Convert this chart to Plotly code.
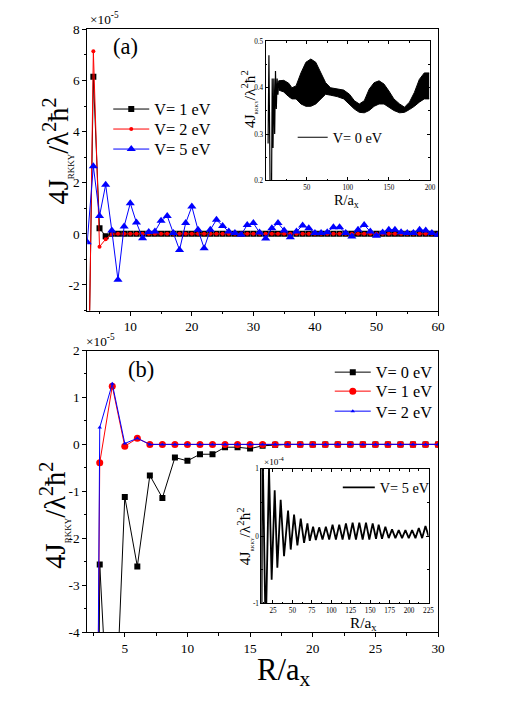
import plotly.graph_objects as go

W, H = 512, 727
FONT = "Liberation Serif"

# ---- panel (a): R/a_x = 3..60, J in units of 1e-5 ----
r_a = list(range(3, 61))
j_a_v1 = [-9.0, 6.15, 0.22, -0.09, 0.0, 0.0, 0.0, 0.0, 0.0, 0.0,
          0.0, 0.0, 0.0, 0.0, 0.0, 0.0, 0.0, 0.0, 0.0, 0.0,
          0.0, 0.0, 0.0, 0.0, 0.0, 0.0, 0.0, 0.0, 0.0, 0.0,
          0.0, 0.0, 0.0, 0.0, 0.0, 0.0, 0.0, 0.0, 0.0, 0.0,
          0.0, 0.0, 0.0, 0.0, 0.0, 0.0, 0.0, 0.0, 0.0, 0.0,
          0.0, 0.0, 0.0, 0.0, 0.0, 0.0, 0.0, 0.0]
j_a_v2 = [-10.0, 7.15, -0.50, -0.21, -0.01, 0.0, 0.0, 0.0, 0.0, 0.0,
          0.0, 0.0, 0.0, 0.0, 0.0, 0.0, 0.0, 0.0, 0.0, 0.0,
          0.0, 0.0, 0.0, 0.0, 0.0, 0.0, 0.0, 0.0, 0.0, 0.0,
          0.0, 0.0, 0.0, 0.0, 0.0, 0.0, 0.0, 0.0, 0.0, 0.0,
          0.0, 0.0, 0.0, 0.0, 0.0, 0.0, 0.0, 0.0, 0.0, 0.0,
          0.0, 0.0, 0.0, 0.0, 0.0, 0.0, 0.0, 0.0]
j_a_v5 = [-0.33, 2.65, 0.70, 1.92, 0.13, -1.80, 0.29, 1.20, 0.44, -0.17,
          0.07, 0.09, 0.51, 0.70, 0.03, -0.63, 0.42, 1.07, 0.16, -0.56,
          0.16, 0.55, 0.31, 0.09, 0.03, -0.04, 0.35, 0.42, 0.05, -0.18,
          0.22, 0.42, 0.13, -0.13, 0.09, 0.33, 0.22, 0.03, 0.03, 0.06,
          0.26, 0.26, 0.03, -0.10, 0.16, 0.35, 0.09, -0.07, 0.05, 0.16,
          0.16, 0.06, 0.03, 0.03, 0.16, 0.13, 0.03, -0.04]

# inset of (a): V = 0 eV, first spikes then a fast-oscillating band
ins_a_r_spike = [3, 4, 5, 6, 7, 8, 9, 10, 11, 12, 13, 14, 15, 16]
ins_a_j_spike = [0.28, 0.47, 0.28, 0.05, 0.12, 0.42, 0.27, 0.42, 0.30,
                 0.436, 0.354, 0.42, 0.385, 0.415]
ins_a_r_env = [16, 22, 28, 32, 37, 43, 49, 55, 61, 67, 73, 79, 87, 95, 102,
               108, 114, 120, 126, 132, 138, 144, 150, 156, 163, 169, 175,
               181, 187, 193, 199]
ins_a_upper = [0.415, 0.416, 0.410, 0.400, 0.404, 0.432, 0.455, 0.462, 0.455,
               0.432, 0.411, 0.400, 0.397, 0.395, 0.386, 0.372, 0.365, 0.372,
               0.397, 0.411, 0.415, 0.408, 0.393, 0.376, 0.365, 0.358, 0.369,
               0.390, 0.418, 0.432, 0.432]
ins_a_lower = [0.395, 0.391, 0.381, 0.376, 0.376, 0.365, 0.360, 0.360, 0.365,
               0.376, 0.386, 0.384, 0.381, 0.376, 0.365, 0.354, 0.347, 0.346,
               0.351, 0.360, 0.365, 0.365, 0.358, 0.351, 0.346, 0.347, 0.353,
               0.360, 0.369, 0.376, 0.376]

# ---- panel (b): R/a_x = 2..30, J in units of 1e-5 ----
r_b = list(range(2, 31))
j_b_v0 = [-45.0, -2.56, -7.6, -1.12, -2.60, -0.66, -1.14, -0.28, -0.35, -0.21,
          -0.21, -0.06, -0.06, -0.09, -0.03, -0.01, 0.0, 0.0, 0.0, 0.0,
          0.0, 0.0, 0.0, 0.0, 0.0, 0.0, 0.0, 0.0, 0.0]
j_b_v1 = [-35.0, -0.39, 1.24, -0.04, 0.13, 0.0, 0.0, 0.0, 0.0, 0.0,
          0.0, 0.0, 0.0, 0.0, 0.0, 0.0, 0.0, 0.0, 0.0, 0.0,
          0.0, 0.0, 0.0, 0.0, 0.0, 0.0, 0.0, 0.0, 0.0]
j_b_v2 = [-39.0, 0.36, 1.29, 0.02, 0.13, 0.0, 0.0, 0.0, 0.0, 0.0,
          0.0, 0.0, 0.0, 0.0, 0.0, 0.0, 0.0, 0.0, 0.0, 0.0,
          0.0, 0.0, 0.0, 0.0, 0.0, 0.0, 0.0, 0.0, 0.0]

# inset of (b): V = 5 eV, J in units of 1e-4 (alternating lobe extremes)
ins_b_r = [10.2, 11.3, 15.6, 19.9, 23.3, 27.2, 30.6, 34.9, 39.2, 44.4, 47.8,
           52.1, 56.4, 60.7, 65.0, 69.3, 72.3, 76.6, 80.1, 84.4, 88.7, 93.0,
           97.3, 101.6, 105.9, 110.2, 114.5, 118.8, 123.1, 127.4, 131.7,
           136.0, 140.3, 144.6, 148.9, 153.2, 157.5, 160.9, 165.2, 169.5,
           173.8, 178.1, 182.4, 186.7, 191.0, 195.3, 199.6, 203.9, 208.2,
           212.5, 216.8, 221.1, 225.0]
ins_b_j = [-1.6, 1.6, -1.5, 1.02, -0.65, 0.68, -0.47, 0.54, -0.30, 0.38, -0.20,
           0.32, -0.14, 0.26, -0.10, 0.19, -0.07, 0.14, -0.06, 0.13, -0.05,
           0.14, -0.05, 0.17, -0.05, 0.17, -0.05, 0.19, -0.05, 0.20, -0.05,
           0.20, -0.05, 0.20, -0.05, 0.19, -0.04, 0.17, -0.04, 0.14, -0.03,
           0.10, -0.03, 0.09, -0.03, 0.09, -0.03, 0.09, -0.03, 0.12, -0.03,
           0.15, 0.0]

YTITLE = ("4J<sub><span style='font-size:{s}px'>RKKY</span></sub>"
          "/λ<sup>2</sup>ħ<sup>2</sup>")
XTITLE = "R/a<sub>x</sub>"

# the photographed page comes out slightly shrunk and pushed down,
# so reference pixel positions are mapped back through that before use
SX, SY, OY = 0.984, 0.979, 7.6


def px(x):
    return (x / SX) / W


def py(y):
    return 1 - ((y - OY) / SY) / H


def fs(size):
    return round(size / SY, 1)


def series(x, y, name, color, symbol, size, xa, ya, legend):
    return go.Scatter(
        x=x, y=y, name=name, mode="lines+markers", xaxis=xa, yaxis=ya,
        legend=legend,
        line={"color": color, "width": 1},
        marker={"color": color, "symbol": symbol, "size": size},
    )


fig = go.Figure()

# panel (a), one legend box per entry so the rows can sit where the reference has them
fig.add_trace(series(r_a, j_a_v1, "V= 1 eV", "black", "square", 6, "x", "y", "legend"))
fig.add_trace(series(r_a, j_a_v2, "V= 2 eV", "red", "circle", 4, "x", "y", "legend5"))
fig.add_trace(series(r_a, j_a_v5, "V= 5 eV", "blue", "triangle-up", 8, "x", "y", "legend6"))

# inset (a)
fig.add_trace(go.Scatter(x=ins_a_r_env, y=ins_a_lower, mode="lines", xaxis="x2", yaxis="y2",
                         line={"color": "black", "width": 1}, showlegend=False))
fig.add_trace(go.Scatter(x=ins_a_r_env, y=ins_a_upper, mode="lines", xaxis="x2", yaxis="y2",
                         line={"color": "black", "width": 1}, fill="tonexty",
                         fillcolor="black", showlegend=False))
fig.add_trace(go.Scatter(x=ins_a_r_spike, y=ins_a_j_spike, mode="lines", name="V= 0 eV",
                         xaxis="x2", yaxis="y2", legend="legend2",
                         line={"color": "black", "width": 1.2}))

# panel (b)
fig.add_trace(series(r_b, j_b_v0, "V= 0 eV", "black", "square", 6, "x3", "y3", "legend3"))
fig.add_trace(series(r_b, j_b_v1, "V= 1 eV", "red", "circle", 7, "x3", "y3", "legend7"))
fig.add_trace(series(r_b, j_b_v2, "V= 2 eV", "blue", "triangle-up", 4, "x3", "y3", "legend8"))

# inset (b)
fig.add_trace(go.Scatter(x=ins_b_r, y=ins_b_j, mode="lines", name="V= 5 eV",
                         xaxis="x4", yaxis="y4", legend="legend4",
                         line={"color": "black", "width": 1.8}))


def ax(domain, rng, vals, text, ticks="outside", mirror=True, font=13, minor=None,
       anchor=None, ticklen=4):
    d = {
        "domain": domain, "range": rng, "tickvals": vals, "ticktext": text,
        "showgrid": False, "zeroline": False, "showline": True,
        "linecolor": "black", "linewidth": 1, "mirror": mirror,
        "ticks": ticks, "ticklen": ticklen, "tickcolor": "black",
        "tickfont": {"family": FONT, "size": fs(font), "color": "black"},
        "anchor": anchor,
    }
    if minor is not None:
        d["minor"] = {"dtick": minor, "ticks": ticks, "ticklen": ticklen * 0.6,
                      "tickcolor": "black", "showgrid": False}
    return d


def leg(text_x, row_y, size, itemwidth=30):
    # text starts about itemwidth + 9 px right of the legend's left edge
    return {"x": px(text_x - itemwidth - 9), "y": py(row_y), "xanchor": "left",
            "yanchor": "middle", "bgcolor": "rgba(0,0,0,0)",
            "font": {"family": FONT, "size": fs(size)}, "itemwidth": itemwidth}


fig.update_layout(
    width=W, height=H,
    margin={"l": 0, "r": 0, "t": 0, "b": 0},
    paper_bgcolor="white", plot_bgcolor="white",
    font={"family": FONT, "color": "black"},
    xaxis=ax([px(87), px(437)], [3, 60], [10, 20, 30, 40, 50, 60],
             ["10", "20", "30", "40", "50", "60"], minor=5, anchor="y"),
    yaxis=ax([py(311), py(30)], [-3, 8], [-2, 0, 2, 4, 6, 8],
             ["-2", "0", "2", "4", "6", "8"], minor=1, anchor="x"),
    xaxis2=ax([px(265), px(429)], [0, 200], [50, 100, 150, 200],
              ["50", "100", "150", "200"], ticks="inside", mirror="ticks",
              font=7, minor=25, anchor="y2", ticklen=3),
    yaxis2=ax([py(181), py(42)], [0.2, 0.5], [0.2, 0.3, 0.4, 0.5],
              ["0.2", "0.3", "0.4", "0.5"], ticks="inside", mirror="ticks",
              font=7, minor=0.05, anchor="x2", ticklen=3),
    xaxis3=ax([px(87), px(437)], [2, 30], [5, 10, 15, 20, 25, 30],
              ["5", "10", "15", "20", "25", "30"], minor=2.5, anchor="y3"),
    yaxis3=ax([py(632.5), py(351)], [-4, 2], [-4, -3, -2, -1, 0, 1, 2],
              ["-4", "-3", "-2", "-1", "0", "1", "2"], minor=0.5, anchor="x3"),
    xaxis4=ax([px(260.7), px(427.5)], [10, 225],
              [25, 50, 75, 100, 125, 150, 175, 200, 225],
              ["25", "50", "75", "100", "125", "150", "175", "200", "225"],
              ticks="inside", mirror="ticks", font=7, minor=12.5, anchor="y4", ticklen=3),
    yaxis4=ax([py(603.7), py(469.3)], [-1, 1], [-1, 0, 1], ["-1", "0", "1"],
              ticks="inside", mirror="ticks", font=7, minor=0.5, anchor="x4", ticklen=3),
    legend=leg(153, 110, 16, 36),
    legend5=leg(153, 130, 16, 36),
    legend6=leg(153, 150, 16, 36),
    legend2=leg(331, 138, 14),
    legend3=leg(374, 373, 16, 36),
    legend7=leg(374, 392, 16, 36),
    legend8=leg(374, 412, 16, 36),
    legend4=leg(378, 488, 14, 32),
    showlegend=True,
)

notes = [
    # exponent labels
    (88, 30, "×10<sup>-5</sup>", 13, "left", "bottom", 0),
    (84, 351, "×10<sup>-5</sup>", 13, "left", "bottom", 0),
    (261, 469, "×10<sup>-4</sup>", 9, "left", "bottom", 0),
    # panel labels
    (125, 47, "(a)", 22, "center", "middle", 0),
    (141, 370, "(b)", 22, "center", "middle", 0),
    # axis titles
    (57, 152, YTITLE.format(s=9), 28, "center", "middle", -90),
    (53, 516, YTITLE.format(s=9), 28, "center", "middle", -90),
    (248, 100, YTITLE.format(s=5), 15, "center", "middle", -90),
    (244, 537, YTITLE.format(s=5), 15, "center", "middle", -90),
    (283, 672, XTITLE, 30, "center", "middle", 0),
    (346, 202, XTITLE, 14, "center", "middle", 0),
    (363, 624, XTITLE, 15, "center", "middle", 0),
]
for x, y, text, size, xa, ya, ang in notes:
    fig.add_annotation(x=px(x), y=py(y), xref="paper", yref="paper", text=text,
                       showarrow=False, xanchor=xa, yanchor=ya, textangle=ang,
                       font={"family": FONT, "size": fs(size), "color": "black"})

# pin the graph to the window origin (no default page margin, no scrollbars)
PIN = ("var gd = document.getElementById('{plot_id}');"
       "document.body.style.margin = '0';"
       "document.body.style.overflow = 'hidden';"
       "gd.style.position = 'fixed'; gd.style.left = '0px'; gd.style.top = '0px';")

fig.write_html("out.html", config={"displayModeBar": False}, post_script=PIN)
